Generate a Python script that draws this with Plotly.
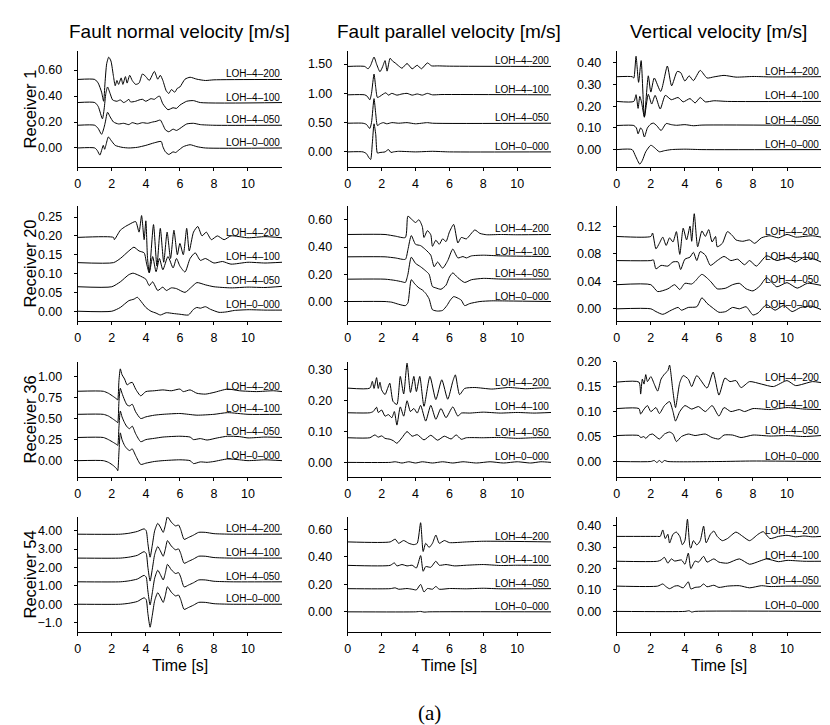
import plotly.graph_objects as go

# ---------------- text ----------------
COL_TITLES = ["Fault normal velocity [m/s]", "Fault parallel velocity [m/s]", "Vertical velocity [m/s]"]
ROW_TITLES = ["Receiver 1", "Receiver 20", "Receiver 36", "Receiver 54"]
TRACE_NAMES = ["LOH\u20130\u2013000", "LOH\u20134\u2013050", "LOH\u20134\u2013100", "LOH\u20134\u2013200"]
TIME_TICKS = [0, 2, 4, 6, 8, 10]

# ---------------- data: (time [s], plotted velocity incl. offset) ----------------
# Receiver 1
fn1_000 = [(0,0),(1.0,0.0),(1.15,-0.02),(1.3,-0.055),(1.42,-0.01),(1.5,0.02),(1.58,-0.01),(1.65,0.02),(1.8,0.085),(1.95,0.06),(2.2,0.02),(2.6,0.005),(3.0,0.0),(3.5,0.005),(4.0,0.02),(4.5,0.04),(4.9,0.05),(5.0,0.01),(5.15,-0.03),(5.35,-0.05),(5.6,-0.03),(5.75,-0.035),(5.9,-0.02),(6.2,0.01),(6.6,0.025),(7.0,0.01),(7.5,0.0),(12,0.0)]
fn1_050 = [(0,0.175),(1.0,0.175),(1.2,0.15),(1.4,0.105),(1.55,0.16),(1.62,0.2),(1.75,0.275),(1.9,0.24),(2.1,0.2),(2.4,0.185),(2.7,0.19),(3.0,0.18),(3.2,0.195),(3.5,0.185),(3.8,0.195),(4.1,0.19),(4.4,0.2),(4.6,0.205),(4.85,0.215),(5.0,0.18),(5.15,0.14),(5.35,0.125),(5.6,0.145),(5.8,0.135),(6.0,0.15),(6.4,0.185),(6.8,0.19),(7.2,0.18),(8,0.175),(12,0.175)]
fn1_100 = [(0,0.35),(1.0,0.35),(1.2,0.32),(1.45,0.225),(1.55,0.3),(1.65,0.42),(1.75,0.47),(1.9,0.42),(2.05,0.37),(2.3,0.36),(2.5,0.37),(2.7,0.35),(2.9,0.365),(3.0,0.375),(3.1,0.355),(3.4,0.36),(3.6,0.37),(3.8,0.375),(4.0,0.36),(4.3,0.38),(4.5,0.375),(4.65,0.39),(4.8,0.4),(5.0,0.34),(5.3,0.295),(5.6,0.31),(5.8,0.305),(6.0,0.33),(6.4,0.36),(6.8,0.365),(7.2,0.35),(12,0.35)]
fn1_200 = [(0,0.528),(1.0,0.528),(1.2,0.5),(1.4,0.43),(1.52,0.36),(1.6,0.5),(1.7,0.65),(1.82,0.7),(1.95,0.67),(2.1,0.55),(2.2,0.48),(2.3,0.52),(2.4,0.49),(2.55,0.54),(2.65,0.49),(2.8,0.55),(2.9,0.5),(3.05,0.56),(3.2,0.52),(3.4,0.49),(3.6,0.5),(3.8,0.57),(4.0,0.55),(4.2,0.52),(4.5,0.59),(4.7,0.53),(4.85,0.56),(5.0,0.52),(5.2,0.44),(5.35,0.42),(5.5,0.45),(5.7,0.43),(5.85,0.46),(6.0,0.47),(6.3,0.53),(6.6,0.545),(7.0,0.53),(7.5,0.52),(8,0.525),(12,0.528)]

fp1_000 = [(0,0),(0.9,0.0),(1.1,-0.03),(1.25,-0.1),(1.35,-0.13),(1.45,0.15),(1.55,0.48),(1.65,0.3),(1.75,-0.02),(1.9,-0.01),(2.2,0.0),(2.4,0.04),(2.55,-0.01),(2.7,0.0),(3.0,0.01),(4.0,0.0),(5.0,0.01),(6.0,0.0),(12,0.0)]
fp1_050 = [(0,0.49),(0.9,0.49),(1.1,0.47),(1.3,0.4),(1.4,0.5),(1.55,0.91),(1.65,0.65),(1.75,0.45),(1.9,0.48),(2.1,0.5),(2.3,0.48),(2.6,0.5),(3.0,0.49),(3.5,0.5),(4.0,0.48),(4.7,0.5),(5.0,0.49),(12,0.49)]
fp1_100 = [(0,0.975),(1.0,0.975),(1.15,0.95),(1.3,0.89),(1.4,1.0),(1.55,1.33),(1.65,1.1),(1.75,0.93),(1.9,0.95),(2.1,0.99),(2.25,1.01),(2.4,0.97),(2.6,1.0),(2.9,0.97),(3.2,0.99),(3.5,1.0),(3.8,0.97),(4.1,0.99),(4.4,0.97),(4.7,1.0),(5.0,0.975),(5.5,0.98),(12,0.975)]
fp1_200 = [(0,1.46),(0.5,1.465),(1.0,1.46),(1.2,1.42),(1.35,1.48),(1.55,1.62),(1.7,1.5),(1.9,1.37),(2.05,1.45),(2.2,1.56),(2.32,1.38),(2.5,1.6),(2.65,1.55),(2.8,1.52),(3.0,1.47),(3.2,1.43),(3.5,1.51),(3.8,1.42),(4.1,1.48),(4.35,1.42),(4.7,1.52),(4.95,1.47),(5.3,1.47),(6.0,1.465),(12,1.46)]

v1_000 = [(0,0),(0.9,0.0),(1.1,-0.03),(1.35,-0.067),(1.5,-0.05),(1.7,-0.01),(2.0,0.02),(2.2,0.01),(2.5,-0.01),(2.8,-0.005),(3.2,0.0),(4.0,0.002),(5.0,0.0),(12,0.0)]
v1_050 = [(0,0.111),(1.0,0.111),(1.15,0.1),(1.25,0.073),(1.4,0.1),(1.5,0.09),(1.62,0.058),(1.8,0.1),(2.0,0.118),(2.15,0.122),(2.35,0.11),(2.6,0.088),(2.9,0.12),(3.2,0.115),(3.5,0.112),(4.0,0.115),(4.5,0.11),(5.0,0.113),(12,0.111)]
v1_100 = [(0,0.222),(1.0,0.222),(1.13,0.253),(1.25,0.19),(1.35,0.245),(1.45,0.22),(1.62,0.152),(1.85,0.255),(2.05,0.21),(2.25,0.25),(2.55,0.187),(2.85,0.25),(3.2,0.23),(3.6,0.24),(3.9,0.22),(4.3,0.235),(4.6,0.215),(4.9,0.24),(5.2,0.22),(5.7,0.225),(6.5,0.222),(12,0.222)]
v1_200 = [(0,0.336),(0.9,0.336),(1.0,0.33),(1.13,0.43),(1.28,0.31),(1.43,0.41),(1.62,0.149),(1.85,0.34),(2.0,0.265),(2.2,0.33),(2.58,0.268),(2.97,0.385),(3.22,0.294),(3.55,0.36),(3.75,0.355),(4.0,0.316),(4.25,0.34),(4.5,0.318),(4.9,0.365),(5.3,0.33),(5.7,0.335),(6.3,0.342),(7.0,0.334),(8.0,0.337),(9.0,0.335),(12,0.336)]

# Receiver 20
fn2_000 = [(0,0),(2.0,0.0),(2.5,0.01),(3.0,0.028),(3.3,0.032),(3.5,0.037),(3.65,0.03),(4.0,0.01),(4.3,0.0),(4.6,-0.005),(4.85,-0.01),(5.2,-0.004),(5.6,-0.006),(6.0,-0.008),(6.5,-0.01),(6.8,0.005),(7.0,0.01),(7.2,0.008),(7.5,0.012),(7.8,0.005),(8.3,-0.003),(8.7,-0.002),(9.2,0.002),(10.0,0.004),(11.0,0.003),(12,0.003)]
fn2_050 = [(0,0.065),(2.0,0.065),(2.5,0.078),(3.0,0.097),(3.25,0.101),(3.6,0.095),(4.0,0.085),(4.2,0.068),(4.4,0.078),(4.7,0.055),(5.0,0.064),(5.2,0.055),(5.5,0.062),(5.8,0.06),(6.3,0.05),(6.7,0.065),(7.0,0.076),(7.5,0.07),(8.0,0.065),(9.0,0.062),(10.0,0.064),(11.0,0.063),(12,0.066)]
fn2_100 = [(0,0.129),(2.1,0.129),(2.5,0.14),(3.0,0.16),(3.3,0.17),(3.6,0.16),(3.9,0.155),(4.05,0.125),(4.2,0.102),(4.4,0.145),(4.6,0.105),(4.8,0.14),(5.0,0.11),(5.3,0.145),(5.6,0.115),(5.8,0.14),(6.0,0.12),(6.3,0.104),(6.6,0.14),(6.9,0.155),(7.2,0.135),(7.5,0.14),(8.0,0.128),(8.5,0.132),(9.0,0.125),(10.0,0.13),(11.0,0.128),(12,0.13)]
fn2_200 = [(0,0.196),(2.1,0.196),(2.15,0.19),(2.5,0.215),(2.8,0.225),(3.0,0.23),(3.4,0.238),(3.6,0.21),(3.75,0.254),(3.9,0.19),(4.0,0.24),(4.1,0.14),(4.2,0.103),(4.45,0.23),(4.65,0.12),(4.85,0.22),(5.05,0.13),(5.25,0.21),(5.45,0.14),(5.65,0.215),(5.85,0.15),(6.0,0.18),(6.2,0.15),(6.4,0.22),(6.55,0.16),(6.8,0.21),(7.05,0.225),(7.3,0.2),(7.55,0.21),(7.85,0.19),(8.2,0.2),(8.6,0.19),(9.0,0.2),(10.0,0.195),(11.0,0.198),(12,0.195)]

fp2_000 = [(0,0),(2.2,0.0),(2.6,-0.005),(3.0,-0.02),(3.4,-0.03),(3.55,-0.01),(3.75,0.16),(3.95,0.13),(4.2,0.1),(4.4,0.085),(4.6,0.06),(4.8,0.02),(5.0,-0.06),(5.3,-0.07),(5.6,-0.065),(5.85,-0.03),(6.05,0.01),(6.25,0.036),(6.5,0.025),(6.7,0.01),(6.9,-0.03),(7.2,-0.015),(7.8,0.0),(8.5,0.005),(9.5,0.004),(12,0.0)]
fp2_050 = [(0,0.164),(2.2,0.164),(2.8,0.155),(3.2,0.145),(3.4,0.14),(3.55,0.2),(3.75,0.325),(4.0,0.28),(4.3,0.255),(4.6,0.225),(4.8,0.2),(5.0,0.11),(5.2,0.1),(5.5,0.09),(5.8,0.12),(6.0,0.18),(6.2,0.21),(6.5,0.175),(6.9,0.14),(7.3,0.16),(8.0,0.17),(9.0,0.165),(12,0.165)]
fp2_100 = [(0,0.328),(2.2,0.328),(2.8,0.32),(3.4,0.31),(3.55,0.38),(3.75,0.484),(4.0,0.42),(4.3,0.41),(4.6,0.38),(4.9,0.34),(5.1,0.255),(5.3,0.29),(5.6,0.245),(5.9,0.3),(6.2,0.385),(6.5,0.32),(6.8,0.33),(7.0,0.32),(7.3,0.335),(8.0,0.34),(9.0,0.335),(12,0.33)]
fp2_200 = [(0,0.492),(2.2,0.492),(2.8,0.48),(3.4,0.47),(3.55,0.626),(3.8,0.6),(4.0,0.58),(4.2,0.6),(4.4,0.55),(4.5,0.47),(4.7,0.52),(4.9,0.49),(5.0,0.405),(5.2,0.45),(5.4,0.42),(5.6,0.46),(5.8,0.44),(6.0,0.51),(6.25,0.566),(6.5,0.43),(6.7,0.47),(7.0,0.46),(7.5,0.525),(7.8,0.5),(8.2,0.49),(9.0,0.492),(10.0,0.49),(12,0.492)]

v2_000 = [(0,0),(2.0,0.0),(2.3,-0.004),(2.7,-0.008),(3.2,-0.002),(3.6,0.002),(3.8,-0.002),(4.2,0.002),(4.7,0.003),(5.0,0.016),(5.3,0.008),(5.6,0.002),(6.0,-0.005),(6.4,-0.004),(6.8,0.002),(7.2,0.0),(7.6,0.003),(8.0,-0.009),(8.3,-0.006),(8.8,0.006),(9.3,-0.002),(9.8,0.005),(10.3,-0.004),(10.8,0.002),(11.4,0.004),(12,-0.001)]
v2_050 = [(0,0.035),(2.0,0.035),(2.4,0.025),(3.0,0.029),(3.4,0.035),(3.7,0.028),(4.0,0.037),(4.4,0.036),(4.6,0.04),(5.0,0.05),(5.5,0.04),(5.9,0.029),(6.4,0.03),(6.8,0.035),(7.2,0.037),(7.6,0.029),(8.0,0.026),(8.4,0.033),(8.8,0.045),(9.4,0.032),(10.0,0.038),(10.6,0.03),(11.2,0.037),(12,0.034)]
v2_100 = [(0,0.07),(2.0,0.07),(2.15,0.071),(2.3,0.058),(2.6,0.063),(3.0,0.062),(3.3,0.068),(3.6,0.068),(3.75,0.057),(4.0,0.072),(4.3,0.075),(4.5,0.082),(4.7,0.07),(4.9,0.083),(5.2,0.078),(5.5,0.063),(5.9,0.07),(6.3,0.076),(6.7,0.07),(7.1,0.072),(7.5,0.064),(7.8,0.07),(8.2,0.062),(8.8,0.077),(9.4,0.07),(10.0,0.074),(10.5,0.068),(11.0,0.075),(11.6,0.072),(12,0.068)]
v2_200 = [(0,0.105),(2.0,0.105),(2.1,0.11),(2.3,0.087),(2.5,0.095),(2.7,0.104),(2.9,0.092),(3.1,0.103),(3.3,0.097),(3.5,0.112),(3.7,0.079),(3.9,0.117),(4.1,0.1),(4.3,0.12),(4.4,0.098),(4.55,0.138),(4.75,0.09),(5.0,0.113),(5.2,0.105),(5.4,0.115),(5.6,0.097),(5.8,0.105),(5.9,0.09),(6.2,0.095),(6.5,0.112),(6.8,0.106),(7.0,0.1),(7.4,0.098),(7.8,0.1),(8.1,0.095),(8.5,0.103),(9.0,0.106),(9.5,0.103),(10.0,0.108),(10.5,0.104),(11.0,0.105),(11.5,0.106),(12,0.104)]

# Receiver 36
fn3_000 = [(0,0),(1.5,0.0),(1.8,-0.02),(2.1,-0.06),(2.3,-0.1),(2.35,-0.12),(2.42,0.1),(2.5,0.33),(2.6,0.25),(2.75,0.18),(2.9,0.14),(3.05,0.12),(3.2,0.14),(3.4,0.06),(3.7,-0.045),(4.0,-0.03),(4.5,-0.01),(5.0,0.0),(6.0,0.01),(6.6,0.0),(6.8,-0.035),(7.2,-0.015),(7.6,-0.02),(8.0,-0.01),(8.8,0.02),(9.5,0.01),(10.0,0.0),(11.0,0.01),(12,0.0)]
fn3_050 = [(0,0.275),(1.5,0.275),(1.8,0.25),(2.1,0.215),(2.3,0.19),(2.35,0.18),(2.42,0.4),(2.5,0.59),(2.6,0.52),(2.75,0.45),(2.9,0.4),(3.05,0.38),(3.2,0.41),(3.4,0.32),(3.7,0.225),(4.0,0.25),(4.5,0.265),(5.0,0.28),(6.0,0.29),(6.6,0.28),(6.8,0.25),(7.2,0.262),(7.6,0.245),(8.2,0.27),(8.8,0.29),(9.5,0.285),(10.0,0.27),(11.0,0.28),(12,0.275)]
fn3_100 = [(0,0.55),(1.5,0.55),(1.8,0.53),(2.1,0.49),(2.3,0.46),(2.35,0.45),(2.42,0.7),(2.5,0.86),(2.6,0.8),(2.75,0.72),(2.9,0.66),(3.05,0.65),(3.2,0.67),(3.4,0.58),(3.7,0.5),(4.0,0.52),(4.5,0.54),(5.0,0.55),(6.0,0.56),(6.5,0.55),(7.0,0.54),(8.0,0.55),(8.8,0.57),(10.0,0.55),(12,0.55)]
fn3_200 = [(0,0.824),(1.5,0.824),(1.8,0.8),(2.1,0.76),(2.3,0.73),(2.35,0.72),(2.42,0.95),(2.5,1.09),(2.6,1.02),(2.75,0.97),(2.9,0.9),(3.05,0.92),(3.2,0.93),(3.4,0.85),(3.7,0.77),(4.0,0.82),(4.5,0.83),(5.0,0.84),(5.5,0.83),(6.0,0.85),(6.2,0.82),(6.6,0.84),(7.0,0.8),(7.5,0.79),(8.0,0.81),(8.8,0.85),(9.5,0.83),(10.5,0.82),(11.5,0.83),(12,0.82)]

fp3_000 = [(0,0),(2.5,0.0),(2.8,0.002),(3.2,-0.002),(3.6,0.002),(4.0,-0.002),(4.4,0.002),(5.0,-0.002),(5.6,0.002),(6.2,-0.002),(6.8,0.002),(7.6,-0.002),(8.4,0.002),(9.2,-0.002),(10.0,0.002),(10.8,-0.002),(11.4,0.002),(12,0.0)]
fp3_050 = [(0,0.08),(1.3,0.08),(1.6,0.089),(1.8,0.082),(2.0,0.086),(2.2,0.078),(2.5,0.075),(2.7,0.07),(2.9,0.062),(3.2,0.08),(3.5,0.1),(3.8,0.085),(4.1,0.09),(4.5,0.073),(4.9,0.088),(5.3,0.072),(5.7,0.085),(6.1,0.076),(6.4,0.089),(6.7,0.075),(7.0,0.08),(8.0,0.08),(9.0,0.081),(10.0,0.078),(11.0,0.08),(12,0.08)]
fp3_100 = [(0,0.161),(1.3,0.161),(1.5,0.165),(1.7,0.179),(1.8,0.162),(2.0,0.17),(2.2,0.15),(2.4,0.155),(2.6,0.145),(2.75,0.165),(2.9,0.121),(3.1,0.18),(3.3,0.15),(3.5,0.2),(3.7,0.165),(3.9,0.175),(4.1,0.16),(4.3,0.185),(4.6,0.134),(4.9,0.185),(5.2,0.14),(5.5,0.175),(5.8,0.145),(6.2,0.18),(6.5,0.15),(6.7,0.16),(7.2,0.16),(8.0,0.163),(9.0,0.16),(10.0,0.162),(11.0,0.16),(12,0.162)]
fp3_200 = [(0,0.241),(1.3,0.241),(1.45,0.263),(1.55,0.24),(1.7,0.275),(1.8,0.24),(1.9,0.26),(2.0,0.235),(2.2,0.22),(2.35,0.24),(2.48,0.257),(2.67,0.198),(2.9,0.188),(3.1,0.279),(3.3,0.222),(3.5,0.322),(3.7,0.227),(3.9,0.279),(4.05,0.23),(4.25,0.279),(4.5,0.182),(4.85,0.279),(5.2,0.204),(5.55,0.268),(5.9,0.205),(6.2,0.263),(6.35,0.284),(6.6,0.22),(6.9,0.24),(7.5,0.243),(8.5,0.238),(9.5,0.243),(10.5,0.239),(11.5,0.242),(12,0.241)]

v3_000 = [(0,0),(2.0,0.0),(2.2,0.002),(2.35,-0.002),(2.5,0.002),(2.65,-0.002),(2.8,0.002),(3.0,0.0),(6.0,0.0),(8.0,0.001),(12,0.0)]
v3_050 = [(0,0.052),(1.3,0.052),(1.4,0.048),(1.6,0.05),(1.7,0.046),(1.9,0.053),(2.1,0.055),(2.5,0.045),(2.8,0.055),(3.1,0.059),(3.3,0.055),(3.5,0.04),(3.8,0.05),(4.2,0.055),(4.6,0.052),(5.2,0.055),(5.6,0.048),(6.0,0.045),(6.3,0.053),(6.8,0.053),(7.3,0.048),(8.0,0.053),(9.0,0.051),(10.0,0.052),(11.0,0.05),(12,0.052)]
v3_100 = [(0,0.106),(1.3,0.106),(1.4,0.095),(1.6,0.105),(1.8,0.112),(2.0,0.1),(2.3,0.108),(2.5,0.096),(2.8,0.112),(3.1,0.12),(3.3,0.1),(3.45,0.081),(3.7,0.1),(4.0,0.112),(4.4,0.105),(4.8,0.11),(5.2,0.1),(5.6,0.112),(6.0,0.091),(6.3,0.108),(6.7,0.1),(7.2,0.104),(7.5,0.1),(8.0,0.106),(9.0,0.104),(10.0,0.108),(11.0,0.105),(12,0.104)]
v3_200 = [(0,0.159),(1.3,0.159),(1.4,0.135),(1.5,0.165),(1.6,0.155),(1.7,0.174),(1.8,0.16),(2.0,0.17),(2.2,0.155),(2.4,0.141),(2.6,0.165),(2.8,0.175),(3.0,0.182),(3.1,0.193),(3.3,0.14),(3.45,0.108),(3.7,0.158),(3.9,0.172),(4.2,0.165),(4.4,0.15),(4.7,0.172),(5.3,0.147),(5.66,0.179),(6.0,0.133),(6.35,0.167),(6.65,0.16),(7.0,0.162),(7.3,0.148),(7.8,0.16),(8.5,0.155),(9.2,0.15),(10.0,0.162),(10.5,0.152),(11.5,0.16),(12,0.158)]

# Receiver 54
fn4_000 = [(0,0),(2.5,0.0),(3.0,0.05),(3.5,0.15),(3.9,0.35),(4.02,0.25),(4.12,-0.5),(4.25,-1.25),(4.38,-0.6),(4.52,0.2),(4.7,0.63),(4.85,0.4),(5.02,0.1),(5.15,0.5),(5.27,0.95),(5.5,0.65),(5.75,0.45),(5.92,0.5),(6.05,0.25),(6.25,-0.28),(6.5,-0.18),(6.8,-0.05),(7.1,0.1),(7.5,0.1),(8.0,0.03),(9.0,0.0),(12,0.0)]
fn4_050 = [(0,1.22),(2.5,1.22),(3.0,1.27),(3.5,1.37),(3.9,1.57),(4.02,1.47),(4.12,0.72),(4.25,-0.04),(4.38,0.62),(4.52,1.42),(4.7,1.85),(4.85,1.62),(5.02,1.32),(5.15,1.72),(5.27,2.17),(5.5,1.87),(5.75,1.67),(5.92,1.72),(6.05,1.47),(6.25,0.94),(6.5,1.04),(6.8,1.17),(7.1,1.32),(7.5,1.32),(8.0,1.25),(9.0,1.22),(12,1.22)]
fn4_100 = [(0,2.51),(2.5,2.51),(3.0,2.56),(3.5,2.66),(3.9,2.86),(4.02,2.76),(4.12,2.01),(4.25,1.26),(4.38,1.91),(4.52,2.71),(4.7,3.14),(4.85,2.91),(5.02,2.61),(5.15,3.01),(5.27,3.46),(5.5,3.16),(5.75,2.96),(5.92,3.01),(6.05,2.76),(6.25,2.23),(6.5,2.33),(6.8,2.46),(7.1,2.61),(7.5,2.61),(8.0,2.54),(9.0,2.51),(12,2.51)]
fn4_200 = [(0,3.81),(2.5,3.81),(3.0,3.86),(3.5,3.96),(3.9,4.1),(4.02,4.0),(4.12,3.3),(4.25,2.56),(4.38,3.21),(4.52,4.0),(4.7,4.4),(4.85,4.2),(5.02,3.91),(5.15,4.31),(5.27,4.76),(5.5,4.46),(5.75,4.26),(5.92,4.31),(6.05,4.06),(6.25,3.53),(6.5,3.63),(6.8,3.76),(7.1,3.91),(7.5,3.91),(8.0,3.84),(9.0,3.81),(12,3.81)]

fp4_000 = [(0,0),(4.0,0.0),(4.3,0.003),(4.5,-0.002),(4.8,0.0),(12,0.0)]
fp4_050 = [(0,0.169),(2.5,0.169),(2.8,0.175),(3.0,0.165),(3.5,0.17),(3.8,0.165),(4.05,0.16),(4.3,0.2),(4.5,0.145),(4.7,0.17),(5.0,0.165),(5.2,0.185),(5.4,0.165),(6.0,0.17),(7.0,0.168),(8.0,0.172),(9.0,0.168),(12,0.169)]
fp4_100 = [(0,0.339),(2.5,0.339),(2.75,0.357),(2.9,0.335),(3.2,0.345),(3.5,0.335),(3.8,0.34),(4.05,0.32),(4.3,0.41),(4.45,0.296),(4.6,0.33),(4.9,0.325),(5.2,0.369),(5.4,0.34),(5.8,0.345),(6.3,0.335),(7.0,0.34),(8.0,0.345),(9.0,0.338),(10.0,0.34),(12,0.339)]
fp4_200 = [(0,0.51),(2.5,0.51),(2.8,0.53),(3.0,0.5),(3.3,0.52),(3.6,0.5),(3.9,0.49),(4.1,0.5),(4.3,0.65),(4.45,0.44),(4.6,0.5),(4.8,0.47),(5.0,0.5),(5.2,0.56),(5.4,0.5),(5.7,0.52),(6.0,0.505),(7.0,0.51),(8.0,0.515),(12,0.51)]

v4_000 = [(0,0),(4.0,0.0),(4.25,0.003),(4.4,-0.003),(4.6,0.0),(12,0.0)]
v4_050 = [(0,0.118),(2.4,0.118),(2.7,0.128),(2.9,0.115),(3.1,0.106),(3.4,0.118),(3.6,0.12),(3.9,0.11),(4.2,0.138),(4.35,0.105),(4.6,0.112),(4.9,0.115),(5.1,0.128),(5.3,0.115),(5.7,0.122),(6.0,0.112),(6.5,0.118),(7.2,0.12),(7.8,0.11),(8.5,0.12),(9.0,0.116),(10.0,0.118),(12,0.118)]
v4_100 = [(0,0.234),(2.4,0.234),(2.6,0.24),(2.8,0.252),(3.0,0.225),(3.2,0.245),(3.4,0.235),(3.8,0.24),(4.0,0.22),(4.2,0.272),(4.35,0.2),(4.6,0.235),(4.8,0.23),(5.1,0.257),(5.3,0.23),(5.7,0.245),(6.0,0.23),(6.5,0.225),(7.2,0.245),(7.8,0.22),(8.4,0.235),(8.8,0.245),(9.5,0.232),(10.0,0.238),(11.0,0.234),(12,0.234)]
v4_200 = [(0,0.35),(2.4,0.35),(2.55,0.35),(2.7,0.38),(2.85,0.34),(3.0,0.36),(3.1,0.319),(3.3,0.36),(3.5,0.37),(3.7,0.35),(3.85,0.311),(4.0,0.33),(4.15,0.43),(4.3,0.3),(4.35,0.295),(4.5,0.33),(4.7,0.31),(4.9,0.33),(5.1,0.398),(5.25,0.32),(5.5,0.36),(5.7,0.375),(5.9,0.35),(6.2,0.33),(6.5,0.34),(7.0,0.37),(7.4,0.35),(7.8,0.33),(8.3,0.36),(8.6,0.372),(9.0,0.34),(9.5,0.35),(10.0,0.355),(10.5,0.348),(11.0,0.352),(11.5,0.348),(12,0.35)]

# ---------------- y ticks per panel ----------------
YT_FN1 = [0.0, 0.2, 0.4, 0.6]
YT_FP1 = [0.0, 0.5, 1.0, 1.5]
YT_V1 = [0.0, 0.1, 0.2, 0.3, 0.4]
YT_FN2 = [0.0, 0.05, 0.10, 0.15, 0.20, 0.25]
YT_FP2 = [0.0, 0.2, 0.4, 0.6]
YT_V2 = [0.0, 0.04, 0.08, 0.12]
YT_FN3 = [0.0, 0.25, 0.5, 0.75, 1.0]
YT_FP3 = [0.0, 0.1, 0.2, 0.3]
YT_V3 = [0.0, 0.05, 0.10, 0.15, 0.20]
YT_FN4 = [-1.0, 0.0, 1.0, 2.0, 3.0, 4.0]
YT_FN4_TEXT = ["\u22121.0", "0.00", "1.00", "2.00", "3.00", "4.00"]
YT_FP4 = [0.0, 0.2, 0.4, 0.6]
YT_V4 = [0.0, 0.1, 0.2, 0.3, 0.4]

PANELS = [
    ([fn1_000, fn1_050, fn1_100, fn1_200], [-0.143, 0.75], YT_FN1, None),
    ([fp1_000, fp1_050, fp1_100, fp1_200], [-0.25, 1.73], YT_FP1, None),
    ([v1_000, v1_050, v1_100, v1_200], [-0.078, 0.456], YT_V1, None),
    ([fn2_000, fn2_050, fn2_100, fn2_200], [-0.026, 0.279], YT_FN2, None),
    ([fp2_000, fp2_050, fp2_100, fp2_200], [-0.143, 0.70], YT_FP2, None),
    ([v2_000, v2_050, v2_100, v2_200], [-0.0177, 0.149], YT_V2, None),
    ([fn3_000, fn3_050, fn3_100, fn3_200], [-0.2, 1.176], YT_FN3, None),
    ([fp3_000, fp3_050, fp3_100, fp3_200], [-0.049, 0.327], YT_FP3, None),
    ([v3_000, v3_050, v3_100, v3_200], [-0.032, 0.2], YT_V3, None),
    ([fn4_000, fn4_050, fn4_100, fn4_200], [-1.51, 4.74], YT_FN4, YT_FN4_TEXT),
    ([fp4_000, fp4_050, fp4_100, fp4_200], [-0.147, 0.691], YT_FP4, None),
    ([v4_000, v4_050, v4_100, v4_200], [-0.096, 0.44], YT_V4, None),
]

W, H = 830, 725
XPIX = [(67, 272), (338, 542), (608, 813)]
YPIX = [(36, 153), (193, 309), (350, 467), (507, 623)]
FONT = "Liberation Sans, Arial, Helvetica, sans-serif"

fig = go.Figure()
layout = dict(width=W, height=H, margin=dict(l=0, r=0, t=0, b=0),
              paper_bgcolor="white", plot_bgcolor="white", showlegend=False,
              font=dict(family=FONT, color="black"))
annotations = []

for k, (traces, yr, yt, ytt) in enumerate(PANELS):
    r, c = divmod(k, 3)
    idx = k + 1
    xs = "" if idx == 1 else str(idx)
    x0, x1 = XPIX[c]
    y0, y1 = YPIX[r]
    layout["xaxis" + xs] = dict(
        domain=[x0 / W, x1 / W], anchor="y" + xs, range=[0, 12],
        tickvals=TIME_TICKS, ticktext=[str(t) for t in TIME_TICKS],
        showline=True, linecolor="black", linewidth=1, showgrid=False, zeroline=False,
        ticks="outside", ticklen=3, tickcolor="black", tickwidth=1,
        tickfont=dict(size=12.5, family=FONT, color="black"), ticklabelstandoff=2,
        fixedrange=True)
    layout["yaxis" + xs] = dict(
        domain=[1 - y1 / H, 1 - y0 / H], anchor="x" + xs, range=yr,
        tickvals=yt, ticktext=ytt if ytt else ["%.2f" % v for v in yt],
        showline=True, linecolor="black", linewidth=1, showgrid=False, zeroline=False,
        ticks="outside", ticklen=3, tickcolor="black", tickwidth=1,
        tickfont=dict(size=12.5, family=FONT, color="black"), ticklabelstandoff=9,
        fixedrange=True)
    for name, tr in zip(TRACE_NAMES, traces):
        fig.add_trace(go.Scatter(
            x=[p[0] for p in tr], y=[p[1] for p in tr], mode="lines",
            line=dict(color="black", width=1, shape="spline", smoothing=0.6),
            xaxis="x" + xs, yaxis="y" + xs, hoverinfo="skip", name=name))
        annotations.append(dict(
            x=12, y=tr[-1][1], xref="x" + xs, yref="y" + xs, text=name,
            showarrow=False, xanchor="right", yanchor="bottom", yshift=-2,
            font=dict(size=10, family=FONT, color="black")))

# column titles and x-axis titles
for c, t in enumerate(COL_TITLES):
    xc = (XPIX[c][0] + XPIX[c][1]) / 2 / W
    annotations.append(dict(x=xc, y=1 - 17 / H, xref="paper", yref="paper", text=t,
                            showarrow=False, xanchor="center", yanchor="middle",
                            font=dict(size=19, family=FONT, color="black")))
    annotations.append(dict(x=xc, y=1 - 657 / H, xref="paper", yref="paper", text="Time [s]",
                            showarrow=False, xanchor="center", yanchor="middle",
                            font=dict(size=16, family=FONT, color="black")))
# row titles
for r, t in enumerate(ROW_TITLES):
    yc = 1 - (YPIX[r][0] + YPIX[r][1]) / 2 / H
    annotations.append(dict(x=19 / W, y=yc, xref="paper", yref="paper", text=t,
                            showarrow=False, xanchor="center", yanchor="middle", textangle=-90,
                            font=dict(size=16.5, family=FONT, color="black")))
annotations.append(dict(x=420 / W, y=1 - 705 / H, xref="paper", yref="paper", text="(a)",
                        showarrow=False, xanchor="center", yanchor="middle",
                        font=dict(size=21, family="Liberation Serif, Times New Roman, serif",
                                  color="black")))

layout["annotations"] = annotations
fig.update_layout(**layout)
fig.write_html("out.html")
